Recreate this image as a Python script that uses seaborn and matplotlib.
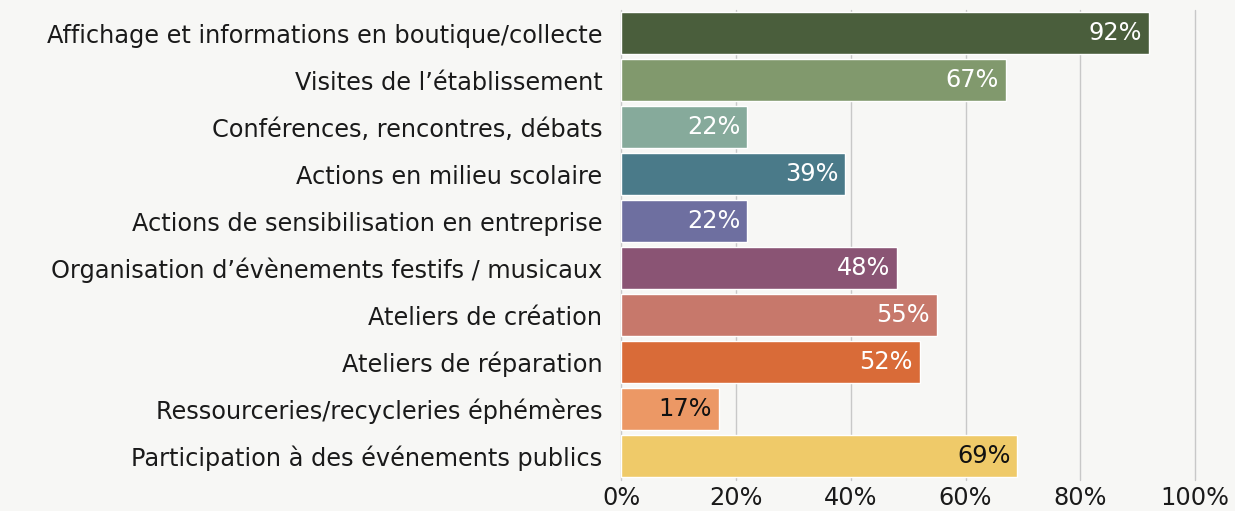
import matplotlib.pyplot as plt
import seaborn as sns
import pandas as pd

categories = [
    "Affichage et informations en boutique/collecte",
    "Visites de l\u2019établissement",
    "Conférences, rencontres, débats",
    "Actions en milieu scolaire",
    "Actions de sensibilisation en entreprise",
    "Organisation d\u2019évènements festifs / musicaux",
    "Ateliers de création",
    "Ateliers de réparation",
    "Ressourceries/recycleries éphémères",
    "Participation à des événements publics",
]
values = [92, 67, 22, 39, 22, 48, 55, 52, 17, 69]
colors = ["#4a5e3c", "#81996d", "#86aa9b", "#4a7a89", "#6e6fa0",
          "#8a5474", "#c7786b", "#d96b38", "#ec9865", "#efca69"]
label_colors = ["white"] * 8 + ["#111111"] * 2
xticks = [0, 20, 40, 60, 80, 100]

df = pd.DataFrame({"cat": categories, "val": values})

bg = "#f7f7f5"
sns.set_style("white")
plt.rcParams["font.family"] = ["DejaVu Sans"]
fs = 17.3

fig = plt.figure(figsize=(12.35, 5.11), dpi=100, facecolor=bg)
ax = fig.add_axes([0.503, 0.0616, 0.4648, 0.9198])
ax.set_facecolor(bg)

sns.barplot(data=df, x="val", y="cat", hue="cat", palette=colors,
            saturation=1, legend=False, width=0.9, ax=ax, zorder=3)

for p, v, c in zip(ax.patches, values, label_colors):
    ax.text(v - 1.2, p.get_y() + p.get_height() / 2, f"{v}%",
            ha="right", va="center", color=c, fontsize=fs, zorder=4)

ax.set_xlim(0, 100)
ax.set_xticks(xticks)
ax.set_xticklabels([f"{t}%" for t in xticks], fontsize=fs, color="#1a1a1a")
ax.tick_params(axis="y", labelsize=fs, labelcolor="#1a1a1a", length=0, pad=13.5)
ax.tick_params(axis="x", length=0, pad=5)
ax.set_xlabel("")
ax.set_ylabel("")
ax.xaxis.grid(True, color="#c8c8c8", linewidth=1, zorder=0)
for gl in ax.get_xgridlines():
    gl.set_clip_on(False)
for s in ax.spines.values():
    s.set_visible(False)

plt.savefig("out.png", dpi=100, facecolor=bg)
plt.close()
